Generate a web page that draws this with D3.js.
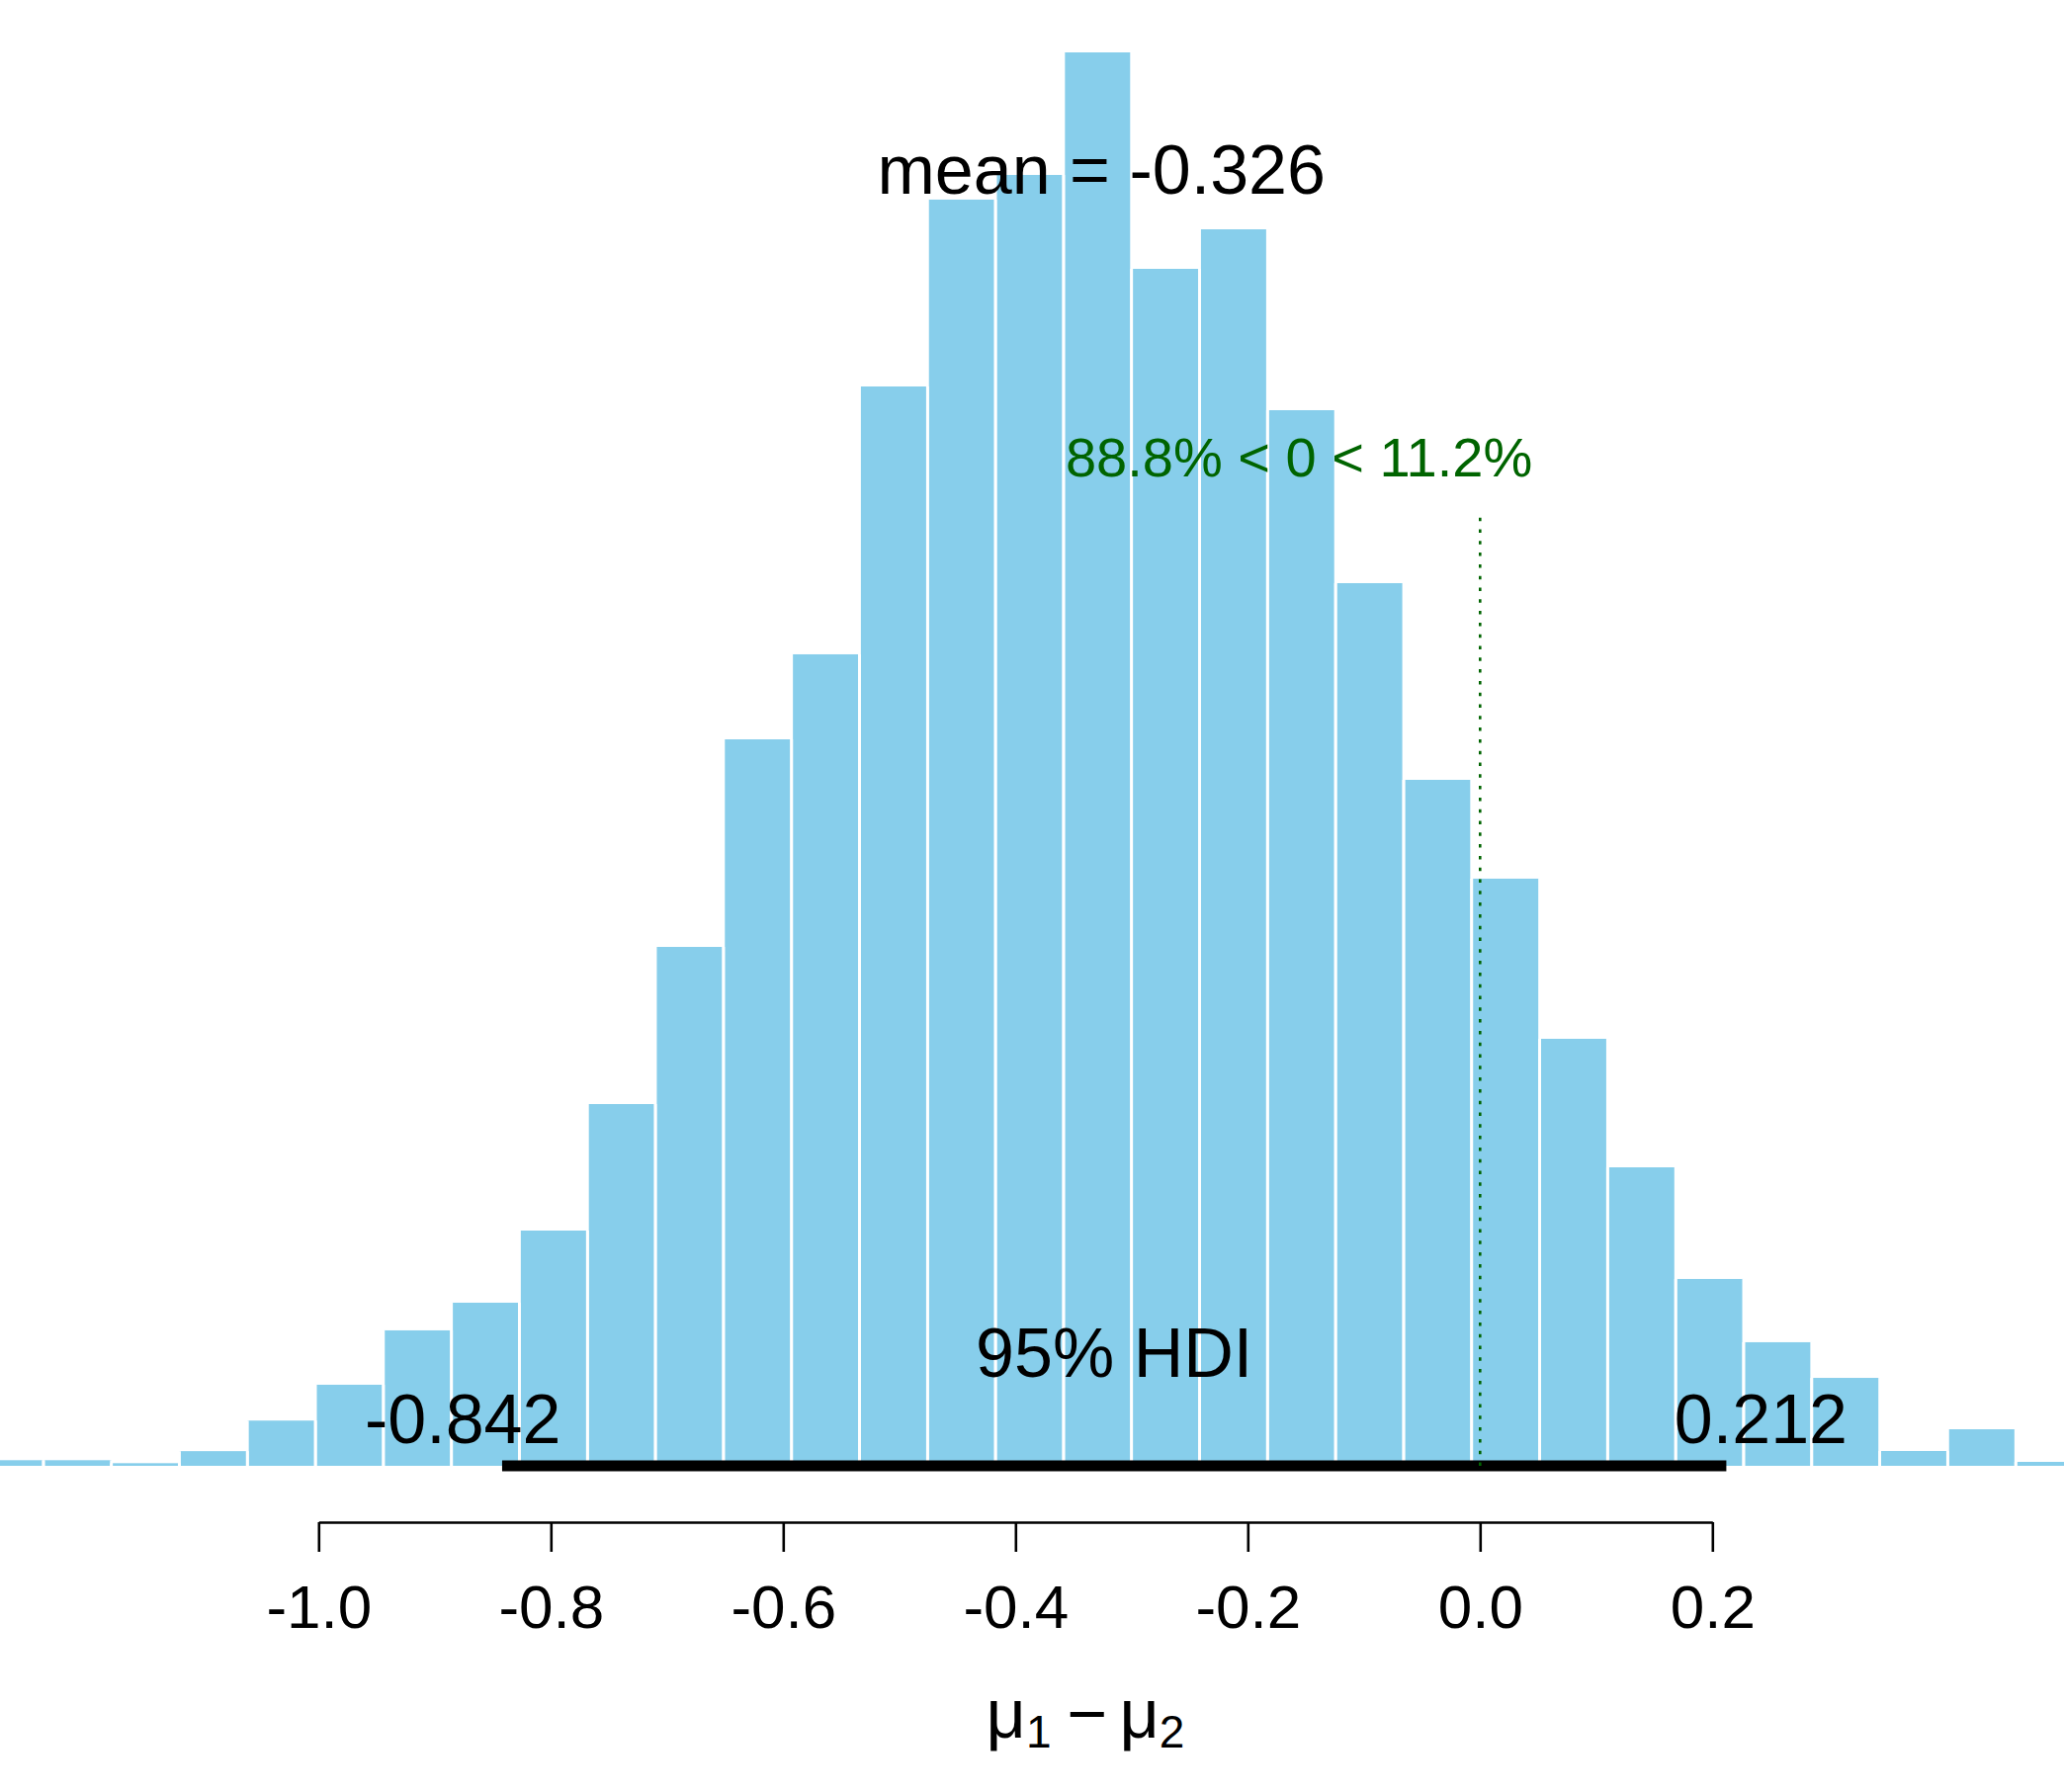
<!DOCTYPE html>
<html>
<head>
<meta charset="utf-8">
<script src="https://cdn.jsdelivr.net/npm/d3@7"></script>
<style>
  html, body { margin: 0; padding: 0; background: #ffffff; }
  svg { display: block; }
  text { font-family: "Liberation Sans", Arial, Helvetica, sans-serif; }
</style>
</head>
<body>
<svg id="chart" width="2088" height="1813"></svg>
<script>
// ---- data ----
const breaks = [-1.2955, -1.2369, -1.1784, -1.1198, -1.0613, -1.0027, -0.9442, -0.8856,
  -0.8271, -0.7685, -0.7100, -0.6514, -0.5928, -0.5343, -0.4757, -0.4172, -0.3586,
  -0.3001, -0.2415, -0.1830, -0.1244, -0.0658, -0.0073, 0.0513, 0.1098, 0.1684,
  0.2269, 0.2855, 0.3441, 0.4026, 0.4612, 0.5197];
const densities = [0.0064, 0.0064, 0.0030, 0.0167, 0.0515, 0.0923, 0.1542, 0.1857,
  0.2678, 0.4118, 0.5907, 0.8270, 0.9238, 1.2287, 1.4414, 1.4695, 1.6090, 1.3626,
  1.4076, 1.2017, 1.0048, 0.7809, 0.6684, 0.4861, 0.3398, 0.2127, 0.1407, 0.1001,
  0.0169, 0.0416, 0.0045];
const tickValues = [-1.0, -0.8, -0.6, -0.4, -0.2, 0.0, 0.2];
const tickLabels = ["-1.0", "-0.8", "-0.6", "-0.4", "-0.2", "0.0", "0.2"];
const meanValue = -0.326;
const meanLabel = "-0.326";
const hdiLimits = [-0.842, 0.212];
const hdiLabels = ["-0.842", "0.212"];
const credMass = 95;
const compVal = 0;
const pcLtComp = 88.8;
const pcGtComp = 11.2;

// ---- layout ----
const svg = d3.select("#chart");
const x = d3.scaleLinear().domain([-1.0, 0.2]).range([322.3, 1732.3]);
const maxD = d3.max(densities);
const y = d3.scaleLinear().domain([0, maxD]).range([1483, 53]);

const bins = densities.map((d, i) => ({ x0: breaks[i], x1: breaks[i + 1], d }));

// histogram bars (fill)
svg.append("g").selectAll("rect").data(bins).join("rect")
  .attr("x", b => x(b.x0))
  .attr("width", b => x(b.x1) - x(b.x0))
  .attr("y", b => y(b.d))
  .attr("height", b => y(0) - y(b.d))
  .attr("fill", "#87CEEB");

// white borders between bars (vertical sides of each bar)
const sides = [];
bins.forEach(b => { sides.push({ v: b.x0, d: b.d }); sides.push({ v: b.x1, d: b.d }); });
svg.append("g").selectAll("line").data(sides).join("line")
  .attr("x1", s => x(s.v)).attr("x2", s => x(s.v))
  .attr("y1", s => y(s.d)).attr("y2", y(0))
  .attr("stroke", "#ffffff").attr("stroke-width", 2.8);

// HDI bar
svg.append("line")
  .attr("x1", x(hdiLimits[0])).attr("x2", x(hdiLimits[1]))
  .attr("y1", y(0)).attr("y2", y(0))
  .attr("stroke", "#000").attr("stroke-width", 11).attr("stroke-linecap", "butt");

// comparison value line
svg.append("line")
  .attr("x1", x(compVal)).attr("x2", x(compVal))
  .attr("y1", y(0)).attr("y2", y(0.96 * 0.7 * maxD))
  .attr("stroke", "#006400").attr("stroke-width", 2.6)
  .attr("stroke-dasharray", "3.5 8.3");

// mean label
svg.append("text")
  .attr("x", x(meanValue)).attr("y", y(0.9 * maxD))
  .attr("text-anchor", "middle").attr("font-size", 70).attr("fill", "#000")
  .text("mean = " + meanLabel);

// HDI labels
svg.append("text")
  .attr("x", x((hdiLimits[0] + hdiLimits[1]) / 2)).attr("y", y(0) - 90)
  .attr("text-anchor", "middle").attr("font-size", 70).attr("fill", "#000")
  .text(credMass + "% HDI");

const lo = svg.append("text")
  .attr("y", y(0) - 23).attr("font-size", 70).attr("fill", "#000")
  .text(hdiLabels[0]);
lo.attr("x", x(hdiLimits[0]) - 0.7 * lo.node().getComputedTextLength());

const hi = svg.append("text")
  .attr("y", y(0) - 23).attr("font-size", 70).attr("fill", "#000")
  .text(hdiLabels[1]);
hi.attr("x", x(hdiLimits[1]) - 0.3 * hi.node().getComputedTextLength());

// comparison text
const cmp = svg.append("text")
  .attr("y", y(0.7 * maxD)).attr("font-size", 56).attr("fill", "#006400")
  .text(pcLtComp.toFixed(1) + "% < " + compVal + " < " + pcGtComp.toFixed(1) + "%");
cmp.attr("x", x(compVal) - (pcLtComp / 100) * cmp.node().getComputedTextLength());

// x axis
const axisY = 1540;
const axis = d3.axisBottom(x)
  .tickValues(tickValues)
  .tickFormat((d, i) => tickLabels[i])
  .tickSize(30)
  .tickSizeOuter(0);
const gAxis = svg.append("g").attr("transform", `translate(0,${axisY})`).call(axis);
gAxis.select(".domain").attr("stroke", "#000").attr("stroke-width", 2.6);
gAxis.selectAll(".tick line").attr("stroke", "#000").attr("stroke-width", 2.6);
gAxis.selectAll(".tick text")
  .attr("y", 107).attr("dy", 0)
  .attr("font-size", 62).attr("fill", "#000")
  .attr("font-family", "\"Liberation Sans\", Arial, sans-serif");

// x label: mu_1 - mu_2
const xl = svg.append("text")
  .attr("x", 1098).attr("y", 1758)
  .attr("text-anchor", "middle").attr("font-size", 70).attr("fill", "#000");
xl.append("tspan").text("\u03BC");
xl.append("tspan").attr("font-size", 46).attr("dy", 10).text("1");
xl.append("tspan").attr("dy", -10).attr("dx", 16).text("\u2212");
xl.append("tspan").attr("dx", 12).text("\u03BC");
xl.append("tspan").attr("font-size", 46).attr("dy", 10).text("2");
</script>
</body>
</html>
